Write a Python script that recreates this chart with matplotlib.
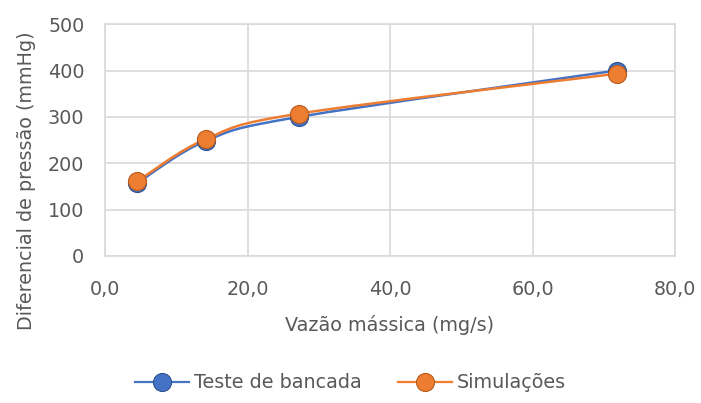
import numpy as np
import matplotlib.pyplot as plt
from matplotlib.path import Path
from matplotlib.patches import PathPatch

vazao_teste = [4.5, 14.1, 27.2, 71.8]
pressao_teste = [157, 248, 300, 400]
vazao_sim = [4.5, 14.1, 27.2, 71.8]
pressao_sim = [161, 252, 307, 393]

x_ticks = [0, 20, 40, 60, 80]
x_labels = ["0,0", "20,0", "40,0", "60,0", "80,0"]
y_ticks = [0, 100, 200, 300, 400, 500]

grey = "#595959"
blue = "#4472C4"
orange = "#ED7D31"
fs = 13.8


def smooth_path(xs, ys, t=1 / 6):
    # Excel-like smoothed line: cubic Bezier with Catmull-Rom control points
    pts = np.column_stack([xs, ys]).astype(float)
    verts = [pts[0]]
    codes = [Path.MOVETO]
    n = len(pts)
    for i in range(n - 1):
        p0 = pts[i - 1] if i > 0 else pts[i]
        p1 = pts[i]
        p2 = pts[i + 1]
        p3 = pts[i + 2] if i + 2 < n else pts[i + 1]
        c1 = p1 + (p2 - p0) * t
        c2 = p2 - (p3 - p1) * t
        verts += [c1, c2, p2]
        codes += [Path.CURVE4] * 3
    return Path(verts, codes)


fig = plt.figure(figsize=(7.01, 4.03), dpi=100)
ax = fig.add_axes([0.150, 0.365, 0.813, 0.575])

for xs, ys, c, ec, lab in [(vazao_teste, pressao_teste, blue, "#2F528F", "Teste de bancada"),
                           (vazao_sim, pressao_sim, orange, "#B85B1E", "Simulações")]:
    ax.add_patch(PathPatch(smooth_path(xs, ys), fill=False, edgecolor=c, lw=1.8, zorder=3))
    ax.plot(xs, ys, ls="none", marker="o", ms=13, mfc=c, mec=ec, mew=0.8, zorder=4)
    ax.plot([], [], color=c, lw=1.6, marker="o", ms=13, mfc=c, mec=ec, mew=0.8, label=lab)

ax.set_xlim(0, 80)
ax.set_ylim(0, 500)
ax.set_xticks(x_ticks)
ax.set_xticklabels(x_labels)
ax.set_yticks(y_ticks)
ax.grid(True, color="#d9d9d9", lw=1.2)
ax.set_axisbelow(True)
for s in ax.spines.values():
    s.set_color("#d9d9d9")
    s.set_linewidth(1.2)
ax.tick_params(length=0, labelsize=fs, colors=grey)
ax.tick_params(axis="x", pad=17)
ax.tick_params(axis="y", pad=15)

fig.text(0.556, 0.193, "Vazão mássica (mg/s)", fontsize=fs, color=grey,
         ha="center", va="center")
fig.text(0.038, 0.551, "Diferencial de pressão (mmHg)", fontsize=fs, color=grey,
         ha="center", va="center", rotation=90)

fig.legend(loc="center", bbox_to_anchor=(0.5, 0.05), ncol=2, frameon=False,
           fontsize=fs, labelcolor=grey, handlelength=2.8, handletextpad=0.25,
           columnspacing=1.9)

fig.savefig("out.png", dpi=100)
